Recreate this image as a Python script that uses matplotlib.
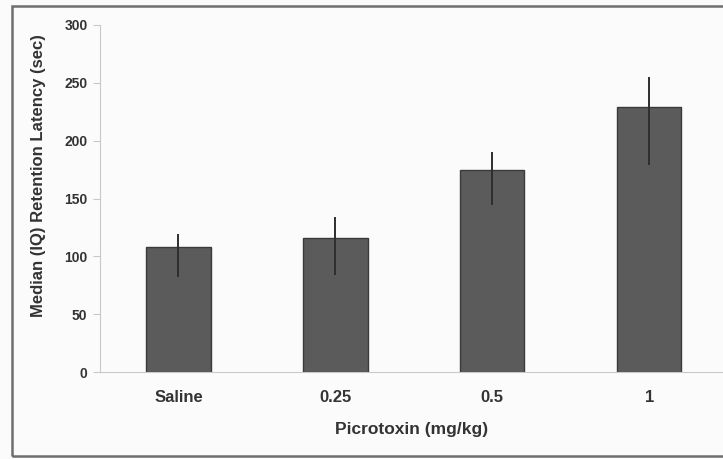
import matplotlib.pyplot as plt
from matplotlib.patches import Rectangle

groups = ['Saline', '0.25', '0.5', '1']
medians = [108, 115.5, 175, 229.5]
err_low = [82.5, 84, 144.5, 179]
err_high = [119, 134, 190, 255]
y_ticks = [0, 50, 100, 150, 200, 250, 300]

plt.rcParams['font.family'] = ['Liberation Sans', 'DejaVu Sans']

fig = plt.figure(figsize=(7.23, 4.59), dpi=100)
fig.patch.set_facecolor('#fbfbfb')

# outer frame, open on the right like the scan
fig.add_artist(Rectangle((12/723, 3/459), 1.2, 1 - 9/459,
                         transform=fig.transFigure, fill=False,
                         edgecolor='#6e6e6e', linewidth=1.8))

ax = fig.add_axes([100/723, 1 - 372/459, 623/723, 347/459])
ax.set_facecolor('none')

x = list(range(len(groups)))
yerr = [[m - lo for m, lo in zip(medians, err_low)],
        [hi - m for m, hi in zip(medians, err_high)]]

ax.bar(x, medians, width=0.41, color='#5b5b5b', edgecolor='#3a3a3a', linewidth=1.0, zorder=2)
ax.errorbar(x, medians, yerr=yerr, fmt='none', ecolor='#2e2e2e', elinewidth=1.4,
            capsize=0, zorder=3)

ax.set_xlim(-0.5, 3.47)
ax.set_ylim(0, 300)
ax.set_yticks(y_ticks)
ax.set_xticks(x)
ax.set_xticklabels(groups)

for s in ['top', 'right']:
    ax.spines[s].set_visible(False)
for s in ['left', 'bottom']:
    ax.spines[s].set_color('#c8c8c8')
    ax.spines[s].set_linewidth(0.8)

ax.tick_params(axis='y', direction='out', length=5, width=0.8, color='#c8c8c8',
               labelsize=10, labelcolor='#333333', pad=4)
ax.tick_params(axis='x', length=0, labelsize=12, labelcolor='#333333', pad=13)
for lbl in ax.get_yticklabels() + ax.get_xticklabels():
    lbl.set_fontweight('bold')

ax.set_ylabel('Median (IQ) Retention Latency (sec)', fontsize=12, fontweight='bold',
              color='#333333')
ax.yaxis.set_label_coords(-0.086, 0.565)
ax.set_xlabel('Picrotoxin (mg/kg)', fontsize=12.5, fontweight='bold',
              color='#333333', labelpad=12)

fig.savefig('out.png', dpi=100, facecolor=fig.get_facecolor())
